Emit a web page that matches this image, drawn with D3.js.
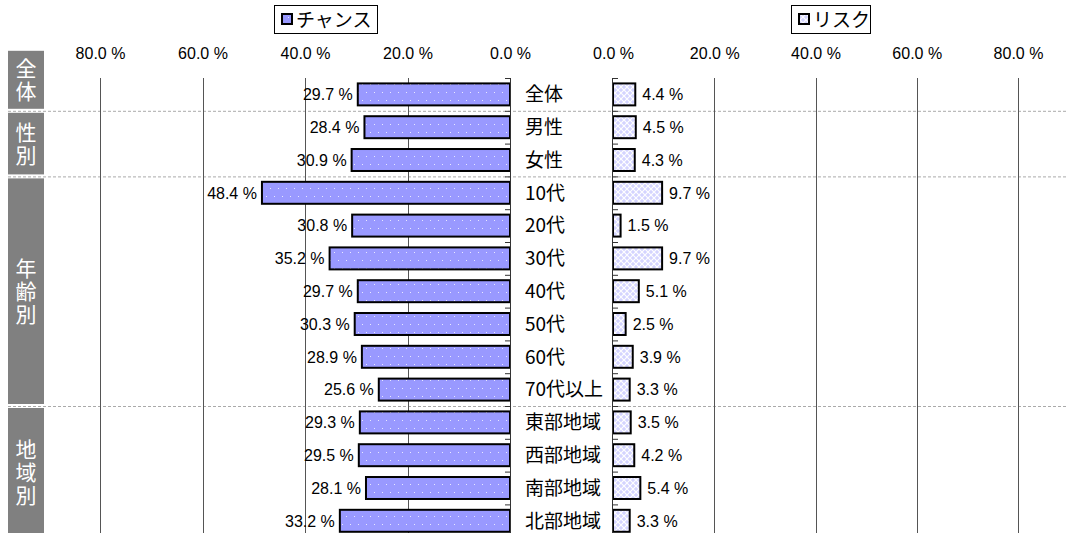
<!DOCTYPE html>
<meta charset="utf-8">
<script src="https://d3js.org/d3.v7.min.js"></script>
<style>
body { margin: 0; background: #fff; }
text { font-family: "Liberation Sans", Arial, sans-serif; }
.jp { font-family: "Noto Sans CJK JP", sans-serif; }
.grid { stroke: #555; stroke-width: 1px; }
.sep { stroke: #aaa; stroke-width: 1px; stroke-dasharray: 3,2; }
.bar { stroke: #000; stroke-width: 2px; }
</style>
<svg width="1066" height="533"></svg>
<script>
const categories = ["全体", "男性", "女性", "10代", "20代", "30代", "40代", "50代", "60代", "70代以上",
    "東部地域", "西部地域", "南部地域", "北部地域"]
const chance = [29.7, 28.4, 30.9, 48.4, 30.8, 35.2, 29.7, 30.3, 28.9, 25.6, 29.3, 29.5, 28.1, 33.2]
const risk = [4.4, 4.5, 4.3, 9.7, 1.5, 9.7, 5.1, 2.5, 3.9, 3.3, 3.5, 4.2, 5.4, 3.3]
const groups = ["全体", "性別", "年齢別", "地域別"]
const groupSizes = [1, 2, 7, 4]
const tickValues = [0, 20, 40, 60, 80]
const seriesNames = ["チャンス", "リスク"]

const svg = d3.select("svg")
const fmt = d => d.toFixed(1) + " %"

// patterns
const defs = svg.append("defs")
let dots = defs.append("pattern").attr("id", "dots")
    .attr("patternUnits", "userSpaceOnUse").attr("width", 8).attr("height", 16)
dots.append("rect").attr("width", 8).attr("height", 16).attr("fill", "#9999ff")
dots.append("rect").attr("x", 2).attr("y", 4).attr("width", 1).attr("height", 1).attr("fill", "#e8e8ff")
dots.append("rect").attr("x", 6).attr("y", 12).attr("width", 1).attr("height", 1).attr("fill", "#e8e8ff")

let hatch = defs.append("pattern").attr("id", "hatch")
    .attr("patternUnits", "userSpaceOnUse").attr("width", 6).attr("height", 6)
hatch.append("rect").attr("width", 6).attr("height", 6).attr("fill", "#d4d4ff")
hatch.append("path").attr("d", "M0,0L6,6M6,0L0,6").attr("stroke", "#fff").attr("stroke-width", 1.2)

// scales
const plotTop = 78, step = 32.8, plotBottom = 533
const y = d3.scaleBand().domain(categories)
    .range([plotTop, plotTop + step * categories.length]).paddingInner(0.33).paddingOuter(0.165)
const xl = d3.scaleLinear().domain([0, 80]).range([510, 100])
const xr = d3.scaleLinear().domain([0, 80]).range([613, 1018])

// group separators
let starts = [0]
groupSizes.forEach((n, i) => starts.push(starts[i] + n))
const rowTop = i => plotTop + step * i

svg.selectAll(".sep").data(starts.slice(1, -1)).join("line")
    .attr("class", "sep")
    .attr("x1", 8).attr("x2", 1066)
    .attr("y1", d => rowTop(d) + 0.5).attr("y2", d => rowTop(d) + 0.5)

// gridlines
const gridVals = tickValues.filter(d => d > 0)
svg.selectAll(".gl").data(gridVals).join("line").attr("class", "grid gl")
    .attr("x1", d => Math.round(xl(d)) + 0.5).attr("x2", d => Math.round(xl(d)) + 0.5)
    .attr("y1", plotTop).attr("y2", plotBottom)
svg.selectAll(".gr").data(gridVals).join("line").attr("class", "grid gr")
    .attr("x1", d => Math.round(xr(d)) + 0.5).attr("x2", d => Math.round(xr(d)) + 0.5)
    .attr("y1", plotTop).attr("y2", plotBottom)

// top tick labels
function topAxis(scale) {
    return d3.axisTop(scale).tickValues(tickValues).tickSize(0).tickPadding(0).tickFormat(fmt)
}
[xl, xr].forEach(sc => {
    let g = svg.append("g").attr("transform", "translate(0,59)").call(topAxis(sc))
    g.select(".domain").remove()
    g.selectAll("text").attr("font-size", "16px").attr("fill", "#000")
        .attr("font-family", "Liberation Sans, Arial, sans-serif")
})

// bars
svg.selectAll(".bl").data(categories).join("rect").attr("class", "bar bl")
    .attr("x", (d, i) => xl(chance[i])).attr("y", d => y(d))
    .attr("width", (d, i) => xl(0) - xl(chance[i])).attr("height", y.bandwidth())
    .attr("fill", "url(#dots)")
svg.selectAll(".br").data(categories).join("rect").attr("class", "bar br")
    .attr("x", xr(0)).attr("y", d => y(d))
    .attr("width", (d, i) => xr(risk[i]) - xr(0)).attr("height", y.bandwidth())
    .attr("fill", "url(#hatch)")

// zero axes with row ticks
const bounds = d3.range(categories.length + 1)
let axL = svg.append("g")
axL.append("line").attr("x1", 510.5).attr("x2", 510.5).attr("y1", plotTop).attr("y2", plotBottom).attr("stroke", "#333")
axL.selectAll("line.t").data(bounds).join("line").attr("class", "t")
    .attr("x1", 505).attr("x2", 510.5).attr("y1", d => rowTop(d) + 0.5).attr("y2", d => rowTop(d) + 0.5)
    .attr("stroke", "#333")
let axR = svg.append("g")
axR.append("line").attr("x1", 612.5).attr("x2", 612.5).attr("y1", plotTop).attr("y2", plotBottom).attr("stroke", "#333")
axR.selectAll("line.t").data(bounds).join("line").attr("class", "t")
    .attr("x1", 612.5).attr("x2", 618).attr("y1", d => rowTop(d) + 0.5).attr("y2", d => rowTop(d) + 0.5)
    .attr("stroke", "#333")

// value labels
svg.selectAll(".vl").data(categories).join("text").attr("class", "vl")
    .attr("x", (d, i) => xl(chance[i]) - 5).attr("y", d => y(d) + y.bandwidth() / 2)
    .attr("dy", "0.36em").attr("text-anchor", "end").attr("font-size", "16px")
    .text((d, i) => fmt(chance[i]))
svg.selectAll(".vr").data(categories).join("text").attr("class", "vr")
    .attr("x", (d, i) => xr(risk[i]) + 7).attr("y", d => y(d) + y.bandwidth() / 2)
    .attr("dy", "0.36em").attr("font-size", "16px")
    .text((d, i) => fmt(risk[i]))

// category labels
svg.selectAll(".cat").data(categories).join("text").attr("class", "cat jp")
    .attr("x", 525).attr("y", d => y(d) + y.bandwidth() / 2)
    .attr("dy", "0.36em").attr("font-size", "19px")
    .text(d => d)

// group boxes, labels written vertically
groups.forEach((name, i) => {
    let y0 = rowTop(starts[i]) + 2, y1 = rowTop(starts[i + 1]) - 2
    y0 = Math.min(y0, y1 - 58)
    svg.append("rect").attr("x", 8).attr("y", y0).attr("width", 36).attr("height", y1 - y0)
        .attr("fill", "#808080")
    svg.append("text").attr("class", "jp")
        .attr("x", 26).attr("y", (y0 + y1) / 2 + 1)
        .attr("writing-mode", "vertical-rl").attr("text-anchor", "middle")
        .attr("letter-spacing", "2px")
        .attr("font-size", "21px").attr("fill", "#fff").text(name)
})

// legends
const legends = [{x: 274, w: 103, fill: "url(#dots)"}, {x: 791, w: 79, fill: "url(#hatch)"}]
legends.forEach((l, i) => {
    let g = svg.append("g").attr("transform", `translate(${l.x},5)`)
    g.append("rect").attr("x", 0.5).attr("y", 0.5).attr("width", l.w).attr("height", 28)
        .attr("fill", "#fff").attr("stroke", "#000")
    g.append("rect").attr("x", 8).attr("y", 9).attr("width", 10).attr("height", 10)
        .attr("fill", l.fill).attr("stroke", "#000").attr("stroke-width", 2)
    g.append("text").attr("class", "jp").attr("x", 22).attr("y", 15).attr("dy", "0.36em")
        .attr("font-size", "19px").text(seriesNames[i])
})
</script>
